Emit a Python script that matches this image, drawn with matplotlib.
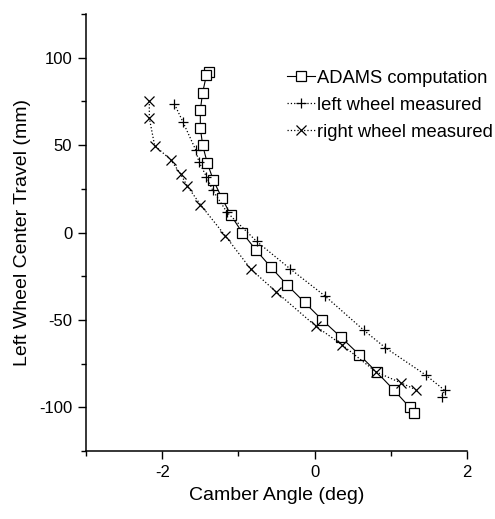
import matplotlib
matplotlib.use("Agg")
import matplotlib.pyplot as plt
from matplotlib.ticker import MultipleLocator

plt.rcParams['font.family'] = ['Liberation Sans', 'DejaVu Sans']
plt.rcParams['axes.unicode_minus'] = False

# ADAMS computation (camber deg, wheel travel mm)
adams_x = [-1.39, -1.42, -1.47, -1.50, -1.50, -1.47, -1.41, -1.33, -1.22, -1.10, -0.95,
           -0.77, -0.57, -0.36, -0.13, 0.10, 0.35, 0.59, 0.82, 1.04, 1.25, 1.31]
adams_y = [92, 90, 80, 70, 60, 50, 40, 30, 20, 10, 0,
           -10, -20, -30, -40, -50, -60, -70, -80, -90, -100, -103]

# left wheel measured
left_x = [-1.84, -1.73, -1.56, -1.52, -1.42, -1.34, -1.15, -0.76, -0.32, 0.14, 0.65,
          0.93, 1.46, 1.71, 1.67]
left_y = [73.5, 63.4, 47.2, 40.6, 32, 24.4, 11.6, -5.1, -20.8, -36.4, -56,
          -65.9, -81.5, -90.3, -94]

# right wheel measured
right_x = [-2.17, -2.17, -2.10, -1.89, -1.76, -1.67, -1.50, -1.17, -0.84, -0.50, 0.02,
           0.36, 0.81, 1.14, 1.33]
right_y = [75.4, 65.5, 49.7, 41.7, 33.5, 26.5, 16, -2, -20.8, -34.1, -53.7,
           -64.2, -79.8, -86.1, -89.9]

fig = plt.figure(figsize=(4.95, 5.19), dpi=100)
ax = fig.add_axes([0.174, 0.131, 0.769, 0.842])

ax.plot(adams_x, adams_y, '-', color='black', lw=0.8, marker='s', ms=6.5,
        mfc='white', mec='black', mew=0.9, label='ADAMS computation')
ax.plot(left_x, left_y, ':', color='black', lw=0.9, marker='+', ms=7,
        mew=0.9, label='left wheel measured')
ax.plot(right_x, right_y, ':', color='black', lw=0.9, marker='x', ms=7,
        mew=0.9, label='right wheel measured')

ax.set_xlim(-3, 2)
ax.set_ylim(-125, 125)
ax.xaxis.set_major_locator(MultipleLocator(2))
ax.xaxis.set_minor_locator(MultipleLocator(1))
ax.yaxis.set_major_locator(MultipleLocator(50))
ax.yaxis.set_minor_locator(MultipleLocator(25))

ax.spines['top'].set_visible(False)
ax.spines['right'].set_visible(False)
for s in ['left', 'bottom']:
    ax.spines[s].set_linewidth(1.1)
ax.tick_params(which='major', direction='out', length=6, width=1, labelsize=12, pad=4)
ax.tick_params(which='minor', direction='out', length=3.5, width=1)

ax.set_xlabel('Camber Angle (deg)', fontsize=14, labelpad=5)
ax.set_ylabel('Left Wheel Center Travel (mm)', fontsize=14, labelpad=6)

ax.legend(loc='upper left', bbox_to_anchor=(0.58, 0.866), bbox_transform=fig.transFigure,
          frameon=False, fontsize=13.2, handlelength=1.5, handletextpad=0.15,
          labelspacing=0.55, borderpad=0, borderaxespad=0)

fig.savefig('out.png', dpi=100)
